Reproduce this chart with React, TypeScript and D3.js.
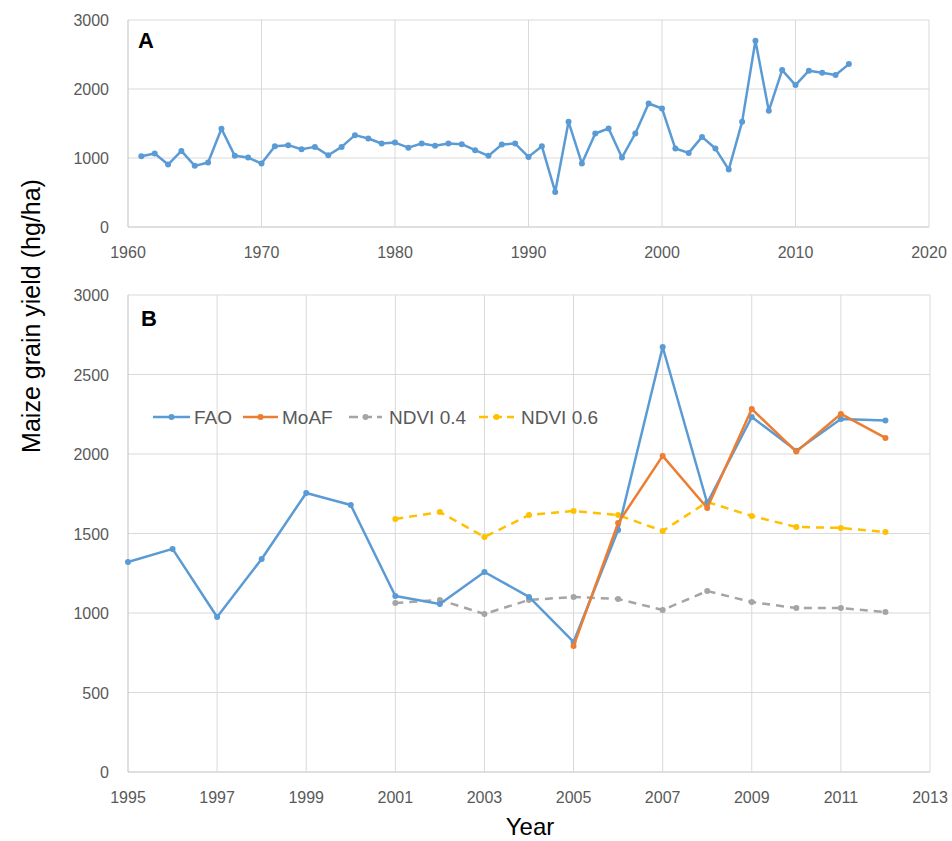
import React from "react";
import * as d3 from "d3";

// ---- Panel A data (FAO, 1961-2014) ----
const yearsA = [
  1961, 1962, 1963, 1964, 1965, 1966, 1967, 1968, 1969, 1970,
  1971, 1972, 1973, 1974, 1975, 1976, 1977, 1978, 1979, 1980,
  1981, 1982, 1983, 1984, 1985, 1986, 1987, 1988, 1989, 1990,
  1991, 1992, 1993, 1994, 1995, 1996, 1997, 1998, 1999, 2000,
  2001, 2002, 2003, 2004, 2005, 2006, 2007, 2008, 2009, 2010,
  2011, 2012, 2013, 2014,
];
const faoA = [
  1026, 1065, 905, 1103, 886, 934, 1423, 1031, 1006, 919,
  1171, 1186, 1127, 1161, 1040, 1161, 1331, 1282, 1210, 1224,
  1150, 1210, 1176, 1210, 1200, 1113, 1031, 1195, 1210, 1016,
  1171, 508, 1524, 919, 1355, 1427, 1006, 1355, 1790, 1718,
  1137, 1074, 1306, 1137, 832, 1524, 2700, 1684, 2274, 2057,
  2265, 2235, 2202, 2361,
];
const xTicksA = [1960, 1970, 1980, 1990, 2000, 2010, 2020];
const yTicksA = [0, 1000, 2000, 3000];

// ---- Panel B data ----
const yearsFAO = [1995, 1996, 1997, 1998, 1999, 2000, 2001, 2002, 2003, 2004, 2005, 2006, 2007, 2008, 2009, 2010, 2011, 2012];
const faoB = [1321, 1403, 975, 1340, 1755, 1679, 1107, 1057, 1258, 1101, 818, 1522, 2673, 1692, 2233, 2021, 2220, 2210];
const yearsMoAF = [2005, 2006, 2007, 2008, 2009, 2010, 2011, 2012];
const moafB = [792, 1566, 1988, 1660, 2283, 2015, 2252, 2101];
const yearsNDVI = [2001, 2002, 2003, 2004, 2005, 2006, 2007, 2008, 2009, 2010, 2011, 2012];
const ndvi04 = [1063, 1082, 994, 1082, 1101, 1088, 1019, 1138, 1069, 1031, 1031, 1006];
const ndvi06 = [1591, 1635, 1478, 1616, 1642, 1616, 1516, 1698, 1610, 1541, 1535, 1510];
const xTicksB = [1995, 1997, 1999, 2001, 2003, 2005, 2007, 2009, 2011, 2013];
const yTicksB = [0, 500, 1000, 1500, 2000, 2500, 3000];

const seriesNames = ["FAO", "MoAF", "NDVI 0.4", "NDVI 0.6"];
const seriesColors = ["#5b9bd5", "#ed7d31", "#a5a5a5", "#ffc000"];
const seriesDash = [null, null, "8,6", "8,6"];

const FONT = "'Liberation Sans', Arial, sans-serif";
const GRID = "#d9d9d9";
const AXIS = "#bfbfbf";
const TICKTXT = "#595959";

type Pt = [number, number];

function Series({ pts, x, y, color, dash }: { pts: Pt[]; x: any; y: any; color: string; dash: string | null }) {
  const line = d3.line<Pt>().x((d) => x(d[0])).y((d) => y(d[1]));
  return (
    <g>
      <path d={line(pts) || ""} fill="none" stroke={color} strokeWidth={2.5} strokeDasharray={dash || undefined} strokeLinejoin="round" />
      {pts.map((d, i) => (
        <circle key={i} cx={x(d[0])} cy={y(d[1])} r={3} fill={color} />
      ))}
    </g>
  );
}

function zip(xs: number[], ys: number[]): Pt[] {
  return xs.map((v, i) => [v, ys[i]] as Pt);
}

export default function App() {
  const W = 952;
  const H = 841;

  // Panel A scales
  const xA = d3.scaleLinear().domain([1960, 2020]).range([128, 929]);
  const yA = d3.scaleLinear().domain([0, 3000]).range([227, 20]);
  // Panel B scales
  const xB = d3.scaleLinear().domain([1995, 2013]).range([128, 930]);
  const yB = d3.scaleLinear().domain([0, 3000]).range([772, 295]);

  const legendY = 417;
  const legendItems = [
    { x0: 153, x1: 190, tx: 194 },
    { x0: 243, x1: 278, tx: 282 },
    { x0: 349, x1: 382, tx: 389 },
    { x0: 479, x1: 514, tx: 521 },
  ];

  return (
    <svg width={W} height={H} style={{ position: "absolute", left: 0, top: 0, background: "#fff" }} fontFamily={FONT}>
      <rect width={W} height={H} fill="#fff" />

      {/* ===== Panel A ===== */}
      <g>
        {yTicksA.map((t) => (
          <line key={"ga" + t} x1={xA(1960)} x2={xA(2020)} y1={yA(t)} y2={yA(t)} stroke={t === 0 ? AXIS : GRID} strokeWidth={1} />
        ))}
        {xTicksA.map((t) => (
          <line key={"gxa" + t} x1={xA(t)} x2={xA(t)} y1={yA(0)} y2={yA(3000)} stroke={t === 1960 ? AXIS : GRID} strokeWidth={1} />
        ))}
        {yTicksA.map((t) => (
          <text key={"ya" + t} x={109} y={yA(t) + 6} textAnchor="end" fontSize={16} fill={TICKTXT}>{t}</text>
        ))}
        {xTicksA.map((t) => (
          <text key={"xa" + t} x={xA(t)} y={258} textAnchor="middle" fontSize={16} fill={TICKTXT}>{t}</text>
        ))}
        <Series pts={zip(yearsA, faoA)} x={xA} y={yA} color={seriesColors[0]} dash={null} />
        <text x={138} y={48} fontSize={22} fontWeight="bold" fill="#000">A</text>
      </g>

      {/* ===== Panel B ===== */}
      <g>
        {yTicksB.map((t) => (
          <line key={"gb" + t} x1={xB(1995)} x2={xB(2013)} y1={yB(t)} y2={yB(t)} stroke={t === 0 ? AXIS : GRID} strokeWidth={1} />
        ))}
        {xTicksB.map((t) => (
          <line key={"gxb" + t} x1={xB(t)} x2={xB(t)} y1={yB(0)} y2={yB(3000)} stroke={t === 1995 ? AXIS : GRID} strokeWidth={1} />
        ))}
        {yTicksB.map((t) => (
          <text key={"yb" + t} x={109} y={yB(t) + 6} textAnchor="end" fontSize={16} fill={TICKTXT}>{t}</text>
        ))}
        {xTicksB.map((t) => (
          <text key={"xb" + t} x={xB(t)} y={803} textAnchor="middle" fontSize={16} fill={TICKTXT}>{t}</text>
        ))}
        <Series pts={zip(yearsNDVI, ndvi04)} x={xB} y={yB} color={seriesColors[2]} dash={seriesDash[2]} />
        <Series pts={zip(yearsNDVI, ndvi06)} x={xB} y={yB} color={seriesColors[3]} dash={seriesDash[3]} />
        <Series pts={zip(yearsFAO, faoB)} x={xB} y={yB} color={seriesColors[0]} dash={null} />
        <Series pts={zip(yearsMoAF, moafB)} x={xB} y={yB} color={seriesColors[1]} dash={null} />
        <text x={141} y={326} fontSize={22} fontWeight="bold" fill="#000">B</text>

        {/* legend */}
        {seriesNames.map((name, i) => {
          const it = legendItems[i];
          return (
            <g key={name}>
              <line x1={it.x0} x2={it.x1} y1={legendY} y2={legendY} stroke={seriesColors[i]} strokeWidth={2.5} strokeDasharray={seriesDash[i] ? "9,5" : undefined} />
              <circle cx={(it.x0 + it.x1) / 2} cy={legendY} r={3} fill={seriesColors[i]} />
              <text x={it.tx} y={legendY + 7} fontSize={19} fill={TICKTXT}>{name}</text>
            </g>
          );
        })}
      </g>

      {/* axis titles */}
      <text transform="translate(40,316) rotate(-90)" textAnchor="middle" fontSize={25} fill="#000">Maize grain yield (hg/ha)</text>
      <text x={530} y={835} textAnchor="middle" fontSize={24} fill="#000">Year</text>
    </svg>
  );
}
